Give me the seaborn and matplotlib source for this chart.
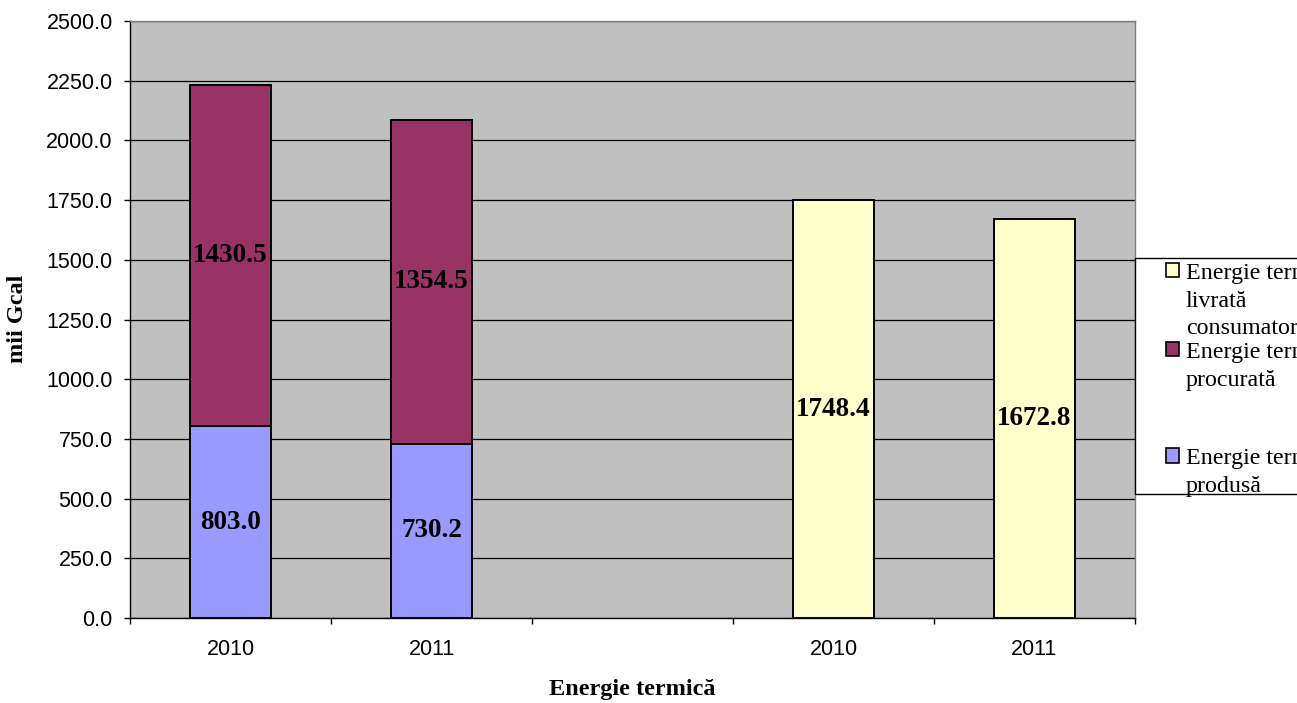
import numpy as np
import pandas as pd
import seaborn as sns
import matplotlib.pyplot as plt
from matplotlib.patches import Patch, Rectangle

# categories (5 slots, middle one left empty as in the original)
slots = ['2010 a', '2011 a', 'gol', '2010 b', '2011 b']
tick_labels = ['2010', '2011', '2010', '2011']
left_years = ['2010 a', '2011 a']
right_years = ['2010 b', '2011 b']

produsa = [803.0, 730.2]
procurata = [1430.5, 1354.5]
livrata = [1748.4, 1672.8]

legend_labels = ['Energie termică\nlivrată\nconsumatorilor',
                 'Energie termică\nprocurată\n\n',
                 'Energie termică\nprodusă']

COL_PROD = '#9999FF'
COL_PROC = '#993366'
COL_LIVR = '#FFFFCC'

df_left = pd.DataFrame({'slot': left_years, 'produsa': produsa, 'procurata': procurata})
df_left['total'] = df_left['produsa'] + df_left['procurata']
df_right = pd.DataFrame({'slot': right_years, 'livrata': livrata})

sns.set_theme(style='white')
plt.rcParams['font.family'] = ['Liberation Sans', 'DejaVu Sans']
plt.rcParams['text.color'] = 'black'
plt.rcParams['xtick.color'] = 'black'
plt.rcParams['ytick.color'] = 'black'
plt.rcParams['axes.labelcolor'] = 'black'
SERIF = ['Liberation Serif', 'DejaVu Serif']

W, H = 1297, 703
fig = plt.figure(figsize=(W / 100, H / 100), dpi=100)
ax = fig.add_axes([130 / W, 1 - 618 / H, (1135 - 130) / W, (618 - 21) / H])

kw = dict(order=slots, width=0.4, edgecolor='black', linewidth=1.4, saturation=1, ax=ax)
# stacked: draw total in maroon, then the bottom part over it
sns.barplot(data=df_left, x='slot', y='total', color=COL_PROC, **kw)
sns.barplot(data=df_left, x='slot', y='produsa', color=COL_PROD, **kw)
sns.barplot(data=df_right, x='slot', y='livrata', color=COL_LIVR, **kw)

ax.set_facecolor('#C0C0C0')
ax.set_axisbelow(True)
ax.set_ylim(0, 2500)
ax.set_xlim(-0.5, 4.5)
ax.set_yticks(np.arange(0, 2501, 250))
ax.set_yticklabels([f'{v:.1f}' for v in np.arange(0, 2501, 250)], fontsize=15.5)
ax.yaxis.grid(True, color='black', lw=0.9)
ax.xaxis.grid(False)

ax.set_xticks(np.arange(-0.5, 5, 1))
ax.set_xticklabels([])
ax.set_xticks([slots.index(s) for s in left_years + right_years], minor=True)
ax.set_xticklabels(tick_labels, minor=True, fontsize=15.5)
ax.tick_params(axis='x', which='major', direction='out', length=4.5, width=1, color='black', bottom=True)
ax.tick_params(axis='x', which='minor', length=0, pad=15, bottom=True)
ax.tick_params(axis='y', direction='out', length=4.5, width=1, color='black', pad=8, left=True)
ax.set_xlabel('')
ax.set_ylabel('')

for side in ['left', 'bottom']:
    ax.spines[side].set_color('black')
    ax.spines[side].set_linewidth(1)
for side in ['top', 'right']:
    ax.spines[side].set_color('#808080')
    ax.spines[side].set_linewidth(1)

# data labels
lab = dict(ha='center', va='center', fontsize=19.5, fontweight='bold', family=SERIF, color='black')
for s, p, q in zip(left_years, produsa, procurata):
    i = slots.index(s)
    ax.text(i, p / 2, f'{p:.1f}', **lab)
    ax.text(i, p + q / 2, f'{q:.1f}', **lab)
for s, v in zip(right_years, livrata):
    i = slots.index(s)
    ax.text(i, v / 2, f'{v:.1f}', **lab)

fig.text(18 / W, 1 - 319 / H, 'mii Gcal', rotation=90, ha='center', va='center',
         fontsize=17.5, fontweight='bold', family=SERIF)
fig.text(632 / W, 1 - 690 / H, 'Energie termică', ha='center', va='center',
         fontsize=17.5, fontweight='bold', family=SERIF)

# legend box (cut by the right edge like the original)
fig.patches.append(Rectangle((1135 / W, 1 - 494 / H), 200 / W, 236 / H, transform=fig.transFigure,
                             facecolor='white', edgecolor='black', lw=1, zorder=5))
handles = [Patch(facecolor=c, edgecolor='black', lw=1.2) for c in [COL_LIVR, COL_PROC, COL_PROD]]
leg = fig.legend(handles, legend_labels, loc='upper left', bbox_to_anchor=(1166 / W, 1 - 263 / H),
                 frameon=False, borderpad=0, borderaxespad=0, labelspacing=0.1,
                 handlelength=0.54, handleheight=0.54, handletextpad=0.28,
                 prop={'family': SERIF, 'size': 17.3})
for t in leg.get_texts():
    t.set_linespacing(1.42)
for row in leg._legend_handle_box.get_children():
    for entry in row.get_children():
        entry.align = 'top'
leg.set_zorder(6)

fig.savefig('out.png', dpi=100)
